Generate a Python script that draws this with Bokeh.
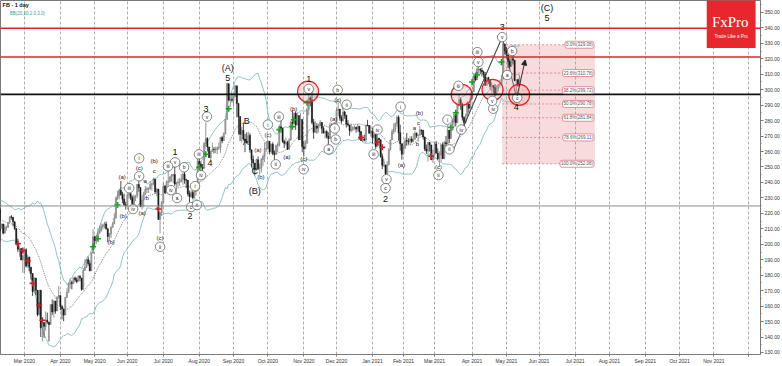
import numpy as np
from bokeh.plotting import figure
from bokeh.models import (Range1d, FixedTicker, PrintfTickFormatter, Label, BoxAnnotation,
                          Span, Arrow, NormalHead)
from bokeh.core.properties import value
from bokeh.embed import file_html
from bokeh.resources import INLINE

# ---------------- data ----------------
MONTH_LABELS = ["Jan 2020", "Feb 2020", "Mar 2020", "Apr 2020", "May 2020", "Jun 2020", "Jul 2020",
                "Aug 2020", "Sep 2020", "Oct 2020", "Nov 2020", "Dec 2020", "Jan 2021", "Feb 2021",
                "Mar 2021", "Apr 2021", "May 2021", "Jun 2021", "Jul 2021", "Aug 2021", "Sep 2021",
                "Oct 2021", "Nov 2021", "Dec 2021"]
# trading days per month (bars)
MONTH_BARS = [21, 19, 22, 21, 20, 22, 22, 21, 21, 22, 20, 22, 19, 19, 23, 21, 20, 22, 21, 22, 21, 21, 21]

CLOSE = [
    [209.8, 208.7, 212.6, 213.1, 215.2, 218.3, 218.1, 221.9, 219.1, 221.8, 221.8, 222.1, 221.4, 221.3, 219.8, 217.9, 214.9, 218.0, 223.2, 209.5, 201.9],
    [204.2, 209.8, 210.1, 210.9, 212.3, 213.1, 207.2, 210.8, 210.9, 214.2, 217.8, 217.5, 214.6, 210.2, 200.4, 196.8, 197.2, 189.8, 192.5],
    [196.4, 185.9, 191.8, 185.2, 181.1, 169.5, 178.2, 170.2, 154.5, 170.3, 146.0, 149.4, 146.9, 150.9, 149.7, 148.1, 161.0, 156.2, 163.3, 156.8, 166.0, 166.8],
    [159.6, 158.2, 154.2, 165.6, 168.8, 174.3, 175.2, 174.7, 178.2, 177.0, 176.0, 179.2, 178.2, 170.8, 183.1, 185.1, 190.1, 187.5, 182.9, 194.2, 204.7],
    [202.3, 205.3, 207.1, 208.5, 211.3, 212.4, 213.2, 210.1, 205.1, 206.8, 210.9, 213.2, 216.9, 230.0, 231.4, 234.9, 232.2, 229.1, 225.5, 225.1],
    [231.9, 232.7, 230.2, 226.3, 230.8, 231.4, 238.7, 236.7, 224.4, 228.6, 232.5, 235.5, 235.9, 235.9, 238.8, 239.2, 242.2, 234.0, 235.7, 216.1, 220.6, 227.1],
    [237.6, 233.4, 240.3, 240.9, 243.6, 244.5, 245.1, 239.0, 239.7, 240.3, 240.3, 242.0, 245.4, 241.8, 241.4, 232.6, 230.7, 233.5, 230.1, 234.0, 234.5, 253.7],
    [252.0, 249.8, 249.1, 265.3, 268.4, 263.0, 256.1, 259.9, 261.3, 261.2, 261.2, 262.3, 262.6, 269.0, 267.0, 271.4, 280.8, 303.9, 293.2, 293.7, 293.2],
    [295.4, 302.5, 291.1, 282.7, 271.2, 273.7, 268.1, 266.6, 266.2, 270.4, 261.1, 254.8, 252.5, 248.2, 254.7, 249.0, 249.5, 254.8, 256.8, 261.8, 261.9],
    [266.6, 259.9, 264.7, 258.7, 258.1, 263.8, 264.5, 276.0, 275.0, 266.6, 265.3, 265.9, 261.4, 267.6, 278.7, 278.1, 284.8, 277.1, 283.3, 267.7, 280.8, 263.1],
    [261.7, 265.3, 287.4, 294.7, 293.4, 278.8, 272.4, 276.5, 275.1, 277.0, 278.9, 275.0, 272.0, 272.9, 269.7, 268.4, 276.9, 275.6, 277.8, 277.0],
    [286.6, 287.5, 281.9, 279.7, 285.6, 283.4, 277.9, 277.1, 273.6, 274.2, 275.6, 275.7, 274.5, 276.4, 272.8, 267.1, 268.1, 267.4, 277.0, 276.8, 271.9, 273.2],
    [268.9, 271.0, 263.3, 268.7, 267.6, 256.8, 251.1, 251.1, 245.6, 251.4, 261.1, 267.5, 272.9, 274.5, 278.0, 282.1, 272.1, 265.0, 258.3],
    [262.0, 267.1, 266.7, 266.5, 268.1, 266.6, 267.9, 271.9, 270.4, 270.5, 274.0, 273.6, 269.4, 261.6, 260.3, 265.9, 264.3, 254.7, 257.6],
    [264.9, 259.0, 255.4, 257.6, 264.3, 255.3, 265.7, 264.9, 273.9, 268.4, 273.8, 279.3, 284.0, 278.6, 290.1, 293.5, 290.6, 282.1, 278.7, 283.0, 290.8, 288.0, 294.5],
    [298.7, 308.9, 306.3, 313.1, 313.1, 312.5, 311.5, 309.8, 302.8, 307.8, 306.2, 302.2, 302.7, 301.5, 296.5, 301.1, 303.0, 303.1, 307.1, 329.5, 325.1],
    [322.6, 318.4, 315.0, 320.0, 319.1, 306.0, 306.5, 302.6, 307.82],
]
HIGH = [
    [209.8, 210.4, 212.8, 214.6, 216.2, 218.4, 218.9, 222.0, 222.4, 222.9, 222.0, 222.6, 222.5, 222.9, 221.1, 221.8, 216.2, 218.2, 224.0, 217.2, 208.7],
    [205.6, 210.5, 212.3, 211.2, 212.6, 213.3, 213.3, 212.8, 212.0, 214.4, 218.0, 218.8, 217.1, 214.1, 204.5, 203.7, 199.3, 196.0, 193.0],
    [197.2, 197.4, 193.2, 191.0, 184.3, 176.3, 178.6, 175.6, 164.2, 170.3, 159.8, 150.0, 148.3, 156.5, 155.8, 149.4, 161.0, 164.3, 163.8, 160.7, 166.0, 173.0],
    [164.6, 160.6, 157.4, 165.8, 171.6, 175.0, 178.0, 176.6, 178.6, 179.2, 178.5, 180.0, 180.1, 175.6, 184.6, 190.3, 190.1, 192.0, 189.6, 194.7, 209.7],
    [205.6, 205.9, 210.4, 212.2, 213.4, 213.3, 214.4, 214.8, 209.4, 207.3, 211.8, 214.5, 220.3, 230.8, 234.6, 235.6, 240.9, 233.9, 232.7, 227.5],
    [232.7, 233.0, 233.0, 231.6, 232.3, 231.6, 239.0, 240.9, 233.2, 231.6, 233.9, 237.6, 237.3, 236.9, 240.8, 239.9, 243.0, 240.8, 236.4, 231.1, 220.8, 228.0],
    [240.0, 238.4, 241.2, 248.1, 243.9, 245.6, 245.5, 250.2, 240.5, 242.5, 243.0, 245.3, 246.4, 247.0, 242.4, 240.7, 234.7, 235.0, 234.7, 234.8, 236.5, 255.9],
    [255.9, 253.5, 251.9, 266.0, 278.9, 269.2, 262.8, 260.4, 265.7, 262.9, 263.1, 263.4, 265.8, 269.3, 270.1, 272.5, 280.8, 304.6, 302.2, 295.7, 298.0],
    [296.4, 302.9, 300.1, 287.8, 279.9, 276.1, 278.8, 271.4, 272.4, 272.9, 271.8, 258.6, 257.3, 249.5, 255.4, 256.8, 252.3, 255.8, 258.2, 265.8, 266.8],
    [267.8, 264.6, 265.2, 266.0, 260.7, 264.5, 265.9, 277.4, 281.7, 275.5, 267.6, 269.0, 267.0, 268.6, 280.0, 286.6, 285.4, 285.9, 284.8, 277.6, 285.0, 270.7],
    [267.1, 267.3, 287.6, 297.6, 295.6, 300.9, 281.1, 279.8, 278.4, 278.0, 280.5, 278.4, 276.4, 273.5, 273.8, 272.4, 278.9, 278.2, 278.8, 279.0],
    [288.1, 291.8, 286.0, 283.5, 288.2, 286.4, 283.7, 280.3, 276.3, 277.9, 276.4, 277.0, 276.1, 277.9, 274.4, 273.2, 270.6, 270.9, 277.3, 280.5, 277.1, 277.1],
    [275.0, 272.4, 267.8, 271.6, 268.8, 260.5, 258.6, 255.3, 251.5, 253.7, 262.3, 267.6, 274.5, 278.2, 278.8, 283.4, 283.4, 277.3, 263.7],
    [264.3, 269.0, 272.0, 268.6, 269.9, 269.8, 271.9, 273.5, 272.3, 271.0, 276.6, 274.2, 274.1, 267.8, 264.5, 266.0, 266.2, 263.5, 261.2],
    [265.9, 266.7, 262.0, 260.2, 264.8, 266.0, 266.8, 270.0, 276.8, 270.5, 275.5, 280.9, 284.0, 282.8, 290.9, 297.0, 294.9, 291.5, 282.6, 284.5, 292.5, 290.6, 298.0],
    [300.0, 310.9, 311.0, 314.5, 314.7, 314.0, 314.2, 312.4, 311.5, 308.2, 308.3, 305.5, 305.0, 303.0, 303.7, 302.6, 303.6, 306.5, 309.7, 331.8, 329.8],
    [327.5, 321.0, 320.2, 320.6, 322.6, 316.9, 306.0, 306.8, 309.6],
]
LOW = [
    [206.3, 206.9, 206.8, 211.8, 212.6, 216.1, 216.3, 217.9, 218.9, 219.0, 219.9, 220.4, 219.9, 220.7, 217.3, 216.8, 211.9, 214.5, 218.0, 208.9, 201.2],
    [200.6, 206.4, 207.8, 208.6, 209.2, 209.9, 206.4, 208.6, 209.0, 210.9, 214.1, 216.0, 211.7, 209.2, 199.4, 195.0, 191.9, 189.7, 181.5],
    [181.5, 184.9, 186.1, 182.5, 177.1, 166.6, 168.3, 167.1, 153.4, 155.9, 140.0, 137.1, 139.5, 144.1, 148.5, 137.1, 153.7, 154.3, 152.6, 155.1, 158.4, 164.5],
    [157.3, 151.4, 150.3, 157.6, 166.6, 169.2, 171.3, 170.9, 175.2, 175.5, 174.8, 176.1, 176.1, 169.9, 176.1, 183.3, 184.9, 186.2, 182.5, 187.0, 200.6],
    [198.8, 200.1, 205.0, 207.3, 208.8, 209.9, 210.3, 209.5, 201.3, 202.3, 204.0, 211.1, 213.1, 221.8, 228.6, 229.0, 231.4, 226.6, 224.9, 222.4],
    [224.4, 229.4, 228.5, 224.2, 225.4, 227.9, 229.7, 234.0, 224.0, 222.4, 223.9, 232.0, 233.2, 233.2, 235.3, 234.7, 238.1, 232.8, 231.0, 215.8, 207.1, 218.4],
    [226.6, 232.8, 236.4, 237.9, 239.6, 240.5, 239.6, 237.8, 232.4, 237.0, 237.7, 240.5, 238.4, 239.2, 236.3, 231.3, 227.3, 230.3, 229.1, 230.0, 231.3, 245.9],
    [249.1, 246.1, 246.1, 249.0, 263.5, 260.1, 256.0, 254.3, 260.2, 258.7, 259.0, 258.3, 261.0, 259.2, 265.4, 267.3, 272.3, 286.2, 292.8, 289.0, 291.8],
    [289.0, 296.2, 282.1, 271.0, 266.8, 265.7, 267.0, 259.6, 265.0, 265.4, 259.2, 249.7, 248.2, 244.6, 247.5, 247.9, 245.2, 246.5, 250.6, 253.2, 259.9],
    [262.7, 258.2, 258.5, 257.6, 254.2, 260.1, 259.6, 263.2, 272.0, 265.6, 262.3, 264.0, 261.0, 261.8, 267.0, 274.8, 277.5, 274.0, 277.4, 267.4, 269.8, 259.6],
    [256.8, 262.1, 273.4, 283.5, 289.2, 277.6, 268.2, 273.6, 271.6, 272.3, 276.4, 271.5, 271.6, 268.5, 268.4, 264.0, 270.0, 274.5, 275.9, 272.0],
    [280.0, 283.3, 280.1, 278.0, 280.0, 281.2, 275.5, 276.2, 270.2, 272.4, 273.2, 274.0, 272.2, 272.8, 267.6, 266.8, 266.1, 266.6, 265.7, 276.3, 271.5, 269.8],
    [265.2, 267.0, 261.7, 264.8, 263.8, 256.0, 248.6, 249.9, 244.6, 247.3, 252.3, 261.9, 269.7, 271.3, 272.5, 276.1, 267.0, 260.6, 254.8],
    [259.0, 262.6, 264.0, 264.6, 264.3, 265.4, 266.1, 268.9, 268.8, 266.2, 270.3, 270.8, 267.8, 260.3, 258.3, 253.5, 260.0, 254.4, 252.5],
    [258.8, 258.6, 254.4, 250.5, 253.5, 255.3, 258.5, 263.5, 269.3, 265.4, 268.6, 274.2, 275.6, 276.2, 280.8, 290.6, 287.0, 280.0, 272.9, 278.3, 284.6, 285.1, 289.9],
    [294.1, 301.5, 305.5, 307.0, 309.6, 310.0, 308.6, 307.5, 302.5, 305.6, 303.6, 300.0, 298.2, 297.7, 295.8, 297.6, 299.1, 301.5, 305.4, 321.4, 323.0],
    [320.2, 314.0, 313.6, 315.0, 316.3, 305.5, 297.5, 302.0, 303.5],
]
FIRST_BAR = -40          # bar index of the first data bar (Mar 2 2020 = 0)

# horizontal levels
RED_LEVELS = [339.7, 321.1]
BLACK_LEVEL = 297.0
GRAY_LEVEL = 224.79
LAST_PRICE = 307.82

# Fibonacci retracement
FIB_PCT = ["0.0%", "23.6%", "38.2%", "50.0%", "61.8%", "78.6%", "100.0%"]
FIB_VAL = [329.08, 310.78, 299.72, 290.78, 281.84, 269.11, 252.08]
FIB_I0, FIB_I1 = 292.4, 349.2

# signal crosses (bar index, price)
GREEN_I = [57, 45, 42, 125, 111, 107, 156, 165, 173, 164, 264, 261, 274, 277, 292]
GREEN_P = [225.4, 203.6, 198.4, 287.7, 258.2, 249.8, 274.2, 280.6, 291.6, 276.1, 285.1, 275.5, 305.0, 309.5, 317.9]
RED_I = [-4, -1, 2, 5, 9, 11, 82, 206, 216, 219, 249]
RED_P = [200.4, 195.9, 189.4, 174.7, 160.5, 150.9, 222.8, 269.1, 265.9, 262.7, 256.9]

# highlighted zones (red rings)
RING_I = [173.6, 267.6, 286.5, 302.8]
RING_P = [298.8, 296.7, 299.9, 296.7]

# Elliott-wave labels
BIG_T = ["(A)", "5", "3", "4", "B", "A", "C", "(B)", "1", "2", "3", "4", "(C)", "5", "1", "2"]
BIG_I = [124.5, 124.5, 111.1, 113.6, 136.1, 135.5, 141.0, 141.0, 174.0, 221.0, 292.4, 301.0, 319.9, 319.9, 92.2, 101.3]
BIG_P = [314.0, 307.6, 287.7, 252.4, 280.0, 265.9, 247.2, 234.4, 307.0, 229.2, 340.4, 289.0, 352.6, 346.1, 259.4, 218.3]

SMALL_T = ["(a)", "(b)", "(c)", "(a)", "(b)", "(c)", "(c)", "(a)", "(a)", "(b)", "c", "a", "b", "(c)",
           "(a)", "(c)", "(b)", "c", "a", "b", "(a)", "(b)", "(b)", "(c)"]
SMALL_I = [142.9, 144.7, 149.0, 160.6, 164.8, 170.9, 191.7, 189.3, 230.8, 241.8, 241.2, 238.7, 240.5, 253.4,
           59.8, 70.2, 79.4, 79.4, 73.9, 75.1, 72.0, 60.4, 53.1, 83.0]
SMALL_P = [260.7, 243.4, 271.0, 256.2, 287.7, 254.9, 293.5, 281.3, 251.1, 285.1, 278.7, 275.5, 264.6, 249.8,
           243.4, 249.2, 253.7, 247.2, 240.8, 229.9, 220.3, 218.3, 201.6, 204.2]

CIRC_T = ["v", "iii", "iv", "i", "ii", "iii", "iv", "v", "b", "ii", "i", "b", "a", "iv", "iii", "v", "c",
          "i", "ii", "i", "ii", "iii", "iv", "iii", "v", "v", "b", "a", "c", "iv", "v",
          "i", "v", "iii", "iv", "v", "iii", "iv", "b", "a", "i", "c", "ii", "ii"]
CIRC_I = [111.7, 106.8, 108.1, 149.0, 153.8, 155.7, 170.9, 174.0, 191.7, 197.2, 189.9, 190.5, 186.2, 216.1, 213.7, 221.6, 221.0,
          230.2, 253.4, 258.9, 260.1, 265.6, 267.4, 277.2, 277.8, 292.4, 298.5, 295.5, 301.6, 286.9, 286.3,
          70.2, 70.2, 64.1, 66.5, 92.2, 87.9, 89.7, 97.7, 93.4, 104.4, 102.0, 105.6, 83.0]
CIRC_P = [282.6, 258.2, 244.7, 277.4, 251.7, 282.6, 248.5, 300.5, 299.9, 290.3, 274.9, 267.8, 261.4, 274.2, 258.2, 242.1, 236.3,
          289.0, 244.7, 280.6, 261.4, 302.5, 274.2, 324.3, 317.9, 334.0, 325.0, 309.5, 294.8, 287.7, 292.8,
          255.6, 244.0, 236.3, 222.8, 253.0, 250.4, 235.0, 249.8, 229.9, 237.6, 224.1, 225.4, 198.4]

# trend lines (bar index, price)
LINE_X0 = [292.4, 268.0, 261.9]
LINE_Y0 = [334.0, 274.2, 259.4]
LINE_X1 = [301.0, 292.4, 292.4]
LINE_Y1 = [295.4, 334.0, 334.0]
ARROW = (301.6, 296.0, 306.5, 319.2)

# ---------------- derived series ----------------
closes = np.array([c for m in CLOSE for c in m])
highs = np.array([h for m in HIGH for h in m])
lows = np.array([l for m in LOW for l in m])
n = len(closes)
idx = np.arange(n) + FIRST_BAR
opens = np.concatenate([[closes[0]], closes[:-1]])
highs = np.maximum(highs, np.maximum(opens, closes))
lows = np.minimum(lows, np.minimum(opens, closes))

w = 20
mid = np.full(n, np.nan); upb = np.full(n, np.nan); lob = np.full(n, np.nan)
for k in range(w - 1, n):
    seg = closes[k - w + 1:k + 1]
    m, s = seg.mean(), seg.std()
    mid[k], upb[k], lob[k] = m, m + 2.0 * s, m - 2.0 * s

starts = np.concatenate([[0], np.cumsum(MONTH_BARS)]) + FIRST_BAR
tick_pos = [int(t) for t in starts]
overrides = {int(t): lab for t, lab in zip(starts, MONTH_LABELS)}
overrides[tick_pos[-1]] = ""

FONT = "Liberation Sans"

# ---------------- figure ----------------
p = figure(width=782, height=366, output_backend="svg", toolbar_location=None,
           x_range=Range1d(-14.65, 450.5), y_range=Range1d(128.7, 357.7),
           x_axis_location="below", y_axis_location="right",
           min_border_left=0, min_border_top=0, min_border_right=20, min_border_bottom=9,
           background_fill_color="white", border_fill_color="white")
p.outline_line_color = "#7a7a7a"
p.outline_line_width = 1

xa = p.xaxis[0]
xa.ticker = FixedTicker(ticks=tick_pos)
xa.major_label_overrides = overrides
xa.major_label_text_font_size = "5px"
xa.major_label_text_font = FONT
xa.major_label_text_color = "#333"
xa.major_tick_out = 2
xa.major_tick_in = 0
xa.minor_tick_out = 0
xa.minor_tick_in = 0
xa.major_label_standoff = 1
xa.axis_line_color = "#7a7a7a"
xa.major_tick_line_color = "#7a7a7a"

ya = p.yaxis[0]
ya.ticker = FixedTicker(ticks=list(range(130, 351, 10)), minor_ticks=list(range(125, 356, 5)))
ya.formatter = PrintfTickFormatter(format="%.2f")
ya.major_label_text_font_size = "5px"
ya.major_label_text_font = FONT
ya.major_label_text_color = "#333"
ya.major_tick_out = 3
ya.major_tick_in = 0
ya.minor_tick_out = 1
ya.minor_tick_in = 0
ya.major_label_standoff = 1
ya.axis_line_color = "#7a7a7a"
ya.major_tick_line_color = "#7a7a7a"
ya.minor_tick_line_color = "#7a7a7a"

p.xgrid.ticker = FixedTicker(ticks=tick_pos)
p.xgrid.grid_line_color = "#9a9a9a"
p.xgrid.grid_line_dash = "3 2"
p.xgrid.grid_line_width = 0.8
p.ygrid.visible = False

# Fibonacci box
p.quad(left=[FIB_I0], right=[FIB_I1], bottom=[FIB_VAL[-1]], top=[FIB_VAL[0]],
       fill_color="#f6cfd2", fill_alpha=0.75, line_color=None, level="underlay")
p.segment(x0=[FIB_I0] * len(FIB_VAL), y0=FIB_VAL, x1=[FIB_I1 - 11] * len(FIB_VAL), y1=FIB_VAL,
          line_color="#e07a82", line_dash="2 2", line_width=0.8)

# horizontal levels
for lv in RED_LEVELS:
    p.add_layout(Span(location=lv, dimension="width", line_color="#e3232b", line_width=1.5))
p.add_layout(Span(location=BLACK_LEVEL, dimension="width", line_color="#111111", line_width=1.6))
p.add_layout(Span(location=GRAY_LEVEL, dimension="width", line_color="#8a8a8a", line_width=1))

# Bollinger bands
p.line(idx, upb, line_color="#82bcbc", line_width=0.9)
p.line(idx, lob, line_color="#82bcbc", line_width=0.9)
p.line(idx, mid, line_color="#666666", line_width=0.8, line_dash="1 1")

# candles
inc = closes >= opens
dec = ~inc
p.segment(x0=idx[inc], y0=lows[inc], x1=idx[inc], y1=highs[inc], line_color="#7a7a7a", line_width=0.8)
p.segment(x0=idx[dec], y0=lows[dec], x1=idx[dec], y1=highs[dec], line_color="#1e1e1e", line_width=0.8)
p.vbar(x=idx[inc], width=0.7, top=np.maximum(opens, closes)[inc], bottom=np.minimum(opens, closes)[inc],
       fill_color="#a8a8a8", line_color="#7a7a7a", line_width=0.5)
p.vbar(x=idx[dec], width=0.7, top=np.maximum(opens, closes)[dec], bottom=np.minimum(opens, closes)[dec],
       fill_color="#1a1a1a", line_color="#1a1a1a", line_width=0.5)

# trend lines and arrow
p.segment(x0=LINE_X0, y0=LINE_Y0, x1=LINE_X1, y1=LINE_Y1, line_color="#444444", line_width=0.8)
p.add_layout(Arrow(end=NormalHead(size=5, fill_color="#222", line_color="#222"),
                   x_start=ARROW[0], y_start=ARROW[1], x_end=ARROW[2], y_end=ARROW[3],
                   line_color="#222", line_width=0.9))

# signal crosses
p.scatter(GREEN_I, GREEN_P, marker="cross", size=6, line_color="#1b9e1b", line_width=1.6)
p.scatter(RED_I, RED_P, marker="cross", size=6, line_color="#c0262b", line_width=1.6)

# red rings
p.scatter(RING_I, RING_P, marker="circle", size=21, fill_color="#f19a9f", fill_alpha=0.3,
          line_color="#e3232b", line_width=1.2)

# wave labels
p.scatter(CIRC_I, CIRC_P, marker="circle", size=9.5, fill_color="white", line_color="#555555", line_width=0.7)
p.text(CIRC_I, CIRC_P, text=CIRC_T, text_font=value(FONT), text_font_size="5px", text_align="center",
       text_baseline="middle", text_color="#222")
p.text(SMALL_I, SMALL_P, text=SMALL_T, text_font=value(FONT), text_font_size="6px", text_align="center",
       text_baseline="middle", text_color="#222")
p.text(BIG_I, BIG_P, text=BIG_T, text_font=value(FONT), text_font_size="9px", text_align="center",
       text_baseline="middle", text_color="#111")

# Fibonacci labels
for pct, v in zip(FIB_PCT, FIB_VAL):
    p.add_layout(Label(x=FIB_I1 - 0.6, y=v, text=f"{pct}({v:.2f})", text_align="right", text_baseline="middle",
                       text_font=FONT, text_font_size="4.5px", text_color="#555",
                       background_fill_color="white", border_line_color="#e07a82", border_line_width=0.8,
                       padding=1, border_radius=2))

# right price tags
for v in [LAST_PRICE, GRAY_LEVEL]:
    p.add_layout(Label(x=451.2, y=v, text=f"{v:.2f}", text_align="left", text_baseline="middle",
                       text_font=FONT, text_font_size="5px", text_color="#222",
                       background_fill_color="white", border_line_color="#333", border_line_width=0.8,
                       padding=1))

# header
p.add_layout(Label(x=-13.4, y=354.6, text="FB · 1 day", text_font=FONT, text_font_size="5.5px",
                   text_font_style="bold", text_color="#111", text_baseline="middle"))
p.add_layout(Label(x=-9.0, y=349.6, text="BB(20,20,2.0,3.0)", text_font=FONT, text_font_size="4.5px",
                   text_color="#3a9a9a", text_baseline="middle"))

# logo
p.add_layout(BoxAnnotation(left=417.6, right=447.5, bottom=326.9, top=360, fill_color="#e8262d",
                           fill_alpha=1, line_color=None))
p.add_layout(Label(x=432.0, y=343.6, text="FxPro", text_align="center", text_baseline="middle",
                   text_font="Liberation Serif", text_font_size="15px", text_color="white"))
p.add_layout(Label(x=432.5, y=334.6, text="Trade Like a Pro", text_align="center", text_baseline="middle",
                   text_font=FONT, text_font_size="4.5px", text_color="white"))

open("out.html", "w").write(file_html(p, INLINE))
